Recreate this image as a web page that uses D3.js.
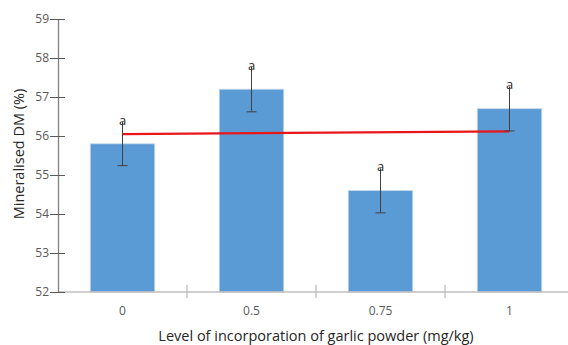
<!DOCTYPE html>
<meta charset="utf-8">
<script src="https://d3js.org/d3.v7.min.js"></script>
<style>
body { margin: 0; background: #fff; }
text { font-family: "Open Sans", sans-serif; }
</style>
<svg width="568" height="345"></svg>
<script>
// values
let levels = ["0", "0.5", "0.75", "1"]
let mineralised = [55.8, 57.2, 54.6, 56.7]
let errors = [0.56, 0.58, 0.57, 0.57]
let letters = ["a", "a", "a", "a"]
let trend = [56.05, 56.12]   // red line, first to last bar
let yTicks = [52, 53, 54, 55, 56, 57, 58, 59]

let svg = d3.select("svg")

let x = d3.scaleBand().domain(levels).range([58, 574]).padding(0.5).paddingOuter(0.25)
let y = d3.scaleLinear().domain([52, 59]).range([292, 19])

// bars
svg.selectAll(".bar")
    .data(mineralised)
    .enter().append("rect")
    .attr("class", "bar")
    .attr("x", (d, i) => x(levels[i]))
    .attr("width", x.bandwidth())
    .attr("y", d => y(d))
    .attr("height", d => y(52) - y(d))
    .attr("fill", "#5b9bd5")
    .attr("stroke", "#c9d9ea")
    .attr("stroke-width", 0.8)

// x axis
let xAxis = svg.append("g")
xAxis.append("line")
    .attr("x1", 58).attr("x2", 568)
    .attr("y1", y(52)).attr("y2", y(52))
    .attr("stroke", "#bfbfbf").attr("stroke-width", 1.3)
let bounds = levels.slice(1).map(l => x(l) - x.step() * x.paddingInner() / 2)
xAxis.selectAll(".xt")
    .data(bounds)
    .enter().append("line")
    .attr("x1", d => d).attr("x2", d => d)
    .attr("y1", y(52) - 7).attr("y2", y(52) + 6)
    .attr("stroke", "#bfbfbf").attr("stroke-width", 1.3)
xAxis.selectAll(".xl")
    .data(levels)
    .enter().append("text")
    .attr("x", d => x(d) + x.bandwidth() / 2)
    .attr("y", 315)
    .attr("text-anchor", "middle")
    .attr("font-size", 12)
    .attr("fill", "#595959")
    .text(d => d)

// y axis
let yAxis = svg.append("g").attr("transform", "translate(58,0)")
    .call(d3.axisLeft(y).tickValues(yTicks).tickFormat(d3.format("d")).tickSize(0).tickPadding(9))
yAxis.select(".domain").attr("stroke", "#808080").attr("stroke-width", 1.3)
yAxis.selectAll(".tick line").attr("x1", -8).attr("x2", 7).attr("stroke", "#595959").attr("stroke-width", 1)
yAxis.selectAll(".tick text").attr("font-size", 12).attr("fill", "#595959")
    .attr("font-family", "'Open Sans', sans-serif")

// trend line
svg.append("line")
    .attr("x1", x(levels[0]) + x.bandwidth() / 2)
    .attr("x2", x(levels[levels.length - 1]) + x.bandwidth() / 2)
    .attr("y1", y(trend[0]))
    .attr("y2", y(trend[1]))
    .attr("stroke", "#e8161b")
    .attr("stroke-width", 2.2)

// error bars
let eb = svg.selectAll(".err")
    .data(mineralised)
    .enter().append("g")
    .attr("transform", (d, i) => "translate(" + (x(levels[i]) + x.bandwidth() / 2) + ",0)")
eb.append("line")
    .attr("y1", (d, i) => y(d + errors[i]))
    .attr("y2", (d, i) => y(d - errors[i]))
    .attr("stroke", "#404040").attr("stroke-width", 1)
eb.append("line")
    .attr("x1", -5).attr("x2", 5)
    .attr("y1", (d, i) => y(d - errors[i]))
    .attr("y2", (d, i) => y(d - errors[i]))
    .attr("stroke", "#404040").attr("stroke-width", 1)
eb.append("text")
    .attr("y", (d, i) => y(d + errors[i]) + 3)
    .attr("text-anchor", "middle")
    .attr("font-size", 13)
    .attr("fill", "#262626")
    .text((d, i) => letters[i])

// axis titles
svg.append("text")
    .attr("x", 316).attr("y", 341)
    .attr("text-anchor", "middle")
    .attr("font-size", 14.5)
    .attr("fill", "#262626")
    .text("Level of incorporation of garlic powder (mg/kg)")
svg.append("text")
    .attr("transform", "translate(24,154) rotate(-90)")
    .attr("text-anchor", "middle")
    .attr("font-size", 14.5)
    .attr("fill", "#262626")
    .text("Mineralised DM (%)")
</script>
